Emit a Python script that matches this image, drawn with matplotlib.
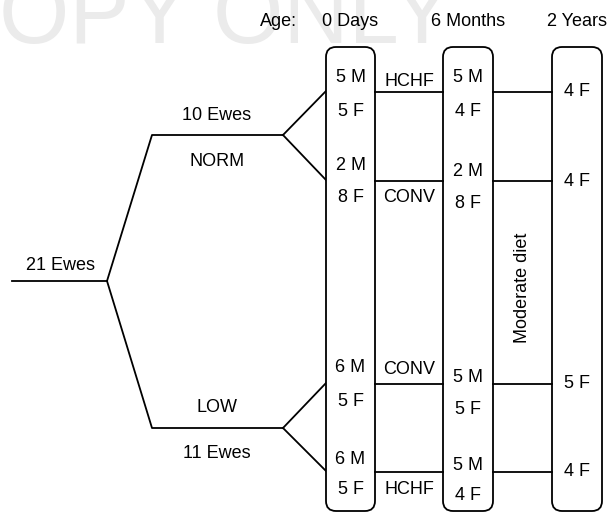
import matplotlib
matplotlib.use("Agg")
import matplotlib.pyplot as plt
from matplotlib.patches import FancyBboxPatch

plt.rcParams['font.family'] = ['Liberation Sans', 'DejaVu Sans']

# data
ages = ["0 Days", "6 Months", "2 Years"]
total_ewes = 21
groups = ["NORM", "LOW"]
group_ewes = [10, 11]
diets = ["HCHF", "CONV", "CONV", "HCHF"]
day0_m = [5, 2, 6, 6]
day0_f = [5, 8, 5, 5]
month6_m = [5, 2, 5, 5]
month6_f = [4, 8, 5, 4]
year2_f = [4, 4, 5, 4]
later_diet = "Moderate diet"

# layout (pixels, y downwards)
W, H = 608, 514
row_y = [92, 181, 384, 472]
group_y = [135, 428]
root_y = 281
box_x = [(326, 375), (443, 493), (552, 602)]
box_top, box_bot = 47, 511
d0_m_y = [78, 166, 368, 460]
d0_f_y = [111, 198, 401, 490]
m6_m_y = [78, 172, 377, 465]
m6_f_y = [111, 203, 410, 495]
diet_y = [82, 198, 370, 490]
fs = 13
lw = 1.3

fig = plt.figure(figsize=(W / 100, H / 100), dpi=100)
ax = fig.add_axes([0, 0, 1, 1])
ax.set_xlim(0, W)
ax.set_ylim(H, 0)
ax.axis('off')

# watermark
ax.text(452, 43, "COPY ONLY", fontsize=65, color='#ebebeb', ha='right',
        va='baseline', zorder=0)

# header
ax.text(278, 21, "Age:", fontsize=fs, ha='center', va='center')
for (x0, x1), a in zip(box_x, ages):
    ax.text((x0 + x1) / 2, 21, a, fontsize=fs, ha='center', va='center')

# tree
ax.plot([12, 107], [root_y, root_y], color='k', lw=lw)
ax.text(60, root_y - 16, f"{total_ewes} Ewes", fontsize=fs, ha='center', va='center')
for i, gy in enumerate(group_y):
    ax.plot([107, 152, 283], [root_y, gy, gy], color='k', lw=lw)
    for r in (2 * i, 2 * i + 1):
        ax.plot([283, box_x[0][0]], [gy, row_y[r] - 1], color='k', lw=lw)
    ewes_lbl = f"{group_ewes[i]} Ewes"
    if i == 0:
        ax.text(217, gy - 20, ewes_lbl, fontsize=fs, ha='center', va='center')
        ax.text(217, gy + 26, groups[i], fontsize=fs, ha='center', va='center')
    else:
        ax.text(217, gy - 20, groups[i], fontsize=fs, ha='center', va='center')
        ax.text(217, gy + 26, ewes_lbl, fontsize=fs, ha='center', va='center')

# boxes
for x0, x1 in box_x:
    ax.add_patch(FancyBboxPatch((x0, box_top), x1 - x0, box_bot - box_top,
                                boxstyle="round,pad=0,rounding_size=10",
                                fc='white', ec='k', lw=lw, zorder=2))

# connecting lines
for y in row_y:
    ax.plot([box_x[0][1], box_x[1][0]], [y, y], color='k', lw=lw)
    ax.plot([box_x[1][1], box_x[2][0]], [y, y], color='k', lw=lw)

c0 = sum(box_x[0]) / 2
c1 = sum(box_x[1]) / 2
c2 = sum(box_x[2]) / 2
mid01 = (box_x[0][1] + box_x[1][0]) / 2
for r in range(4):
    ax.text(c0, d0_m_y[r], f"{day0_m[r]} M", fontsize=fs, ha='center', va='center', zorder=3)
    ax.text(c0, d0_f_y[r], f"{day0_f[r]} F", fontsize=fs, ha='center', va='center', zorder=3)
    ax.text(c1, m6_m_y[r], f"{month6_m[r]} M", fontsize=fs, ha='center', va='center', zorder=3)
    ax.text(c1, m6_f_y[r], f"{month6_f[r]} F", fontsize=fs, ha='center', va='center', zorder=3)
    ax.text(c2, row_y[r], f"{year2_f[r]} F", fontsize=fs, ha='center', va='center', zorder=3)
    ax.text(mid01, diet_y[r], diets[r], fontsize=fs, ha='center', va='center')

ax.text((box_x[1][1] + box_x[2][0]) / 2, 288, later_diet, fontsize=fs,
        rotation=90, ha='center', va='center')

fig.savefig("out.png", dpi=100)
